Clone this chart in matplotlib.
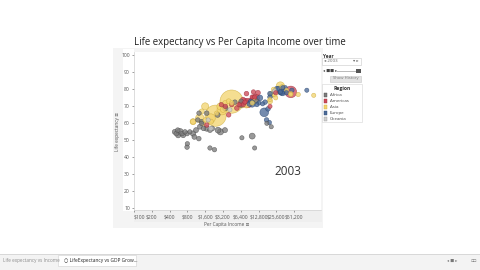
import matplotlib
matplotlib.use("Agg")
import matplotlib.pyplot as plt
from matplotlib.patches import Rectangle
import numpy as np

plt.rcParams['font.family'] = ['Open Sans', 'DejaVu Sans']

# ---------------- data ----------------
regions = ["Africa", "Americas", "Asia", "Europe", "Oceania"]
region_colors = ["#7c7c7c", "#cf4c5a", "#f3d572", "#4d6b98", "#cfcfcf"]
region_edges = ["#4e4e4e", "#9e2f3c", "#cfae3e", "#2d4a75", "#9a9a9a"]

africa_income = [490, 520, 550, 560, 600, 650, 680, 730, 790, 880, 1000, 1050, 1120, 1250,
                 790, 800, 1300, 1400, 1500, 1700, 1930, 2100, 2640, 2900, 3460, 1930, 2300,
                 6700, 10000, 11000, 17700, 21000, 2600, 1700, 1400, 5100, 6500, 3500, 6500,
                 12000, 1260, 1200]
africa_life = [55, 54, 56, 53, 55, 54, 53, 55, 54, 55, 54, 52, 56, 51,
               46, 48, 58, 60, 57, 57, 56, 57, 56, 55, 56, 45.5, 44.5,
               51.5, 52.5, 45.5, 60, 58, 65, 66, 61, 72.5, 71, 69, 73,
               73, 66, 62]
africa_pop = [20, 15, 12, 25, 70, 10, 18, 8, 12, 5, 30, 14, 20, 10,
              8, 5, 16, 10, 9, 35, 14, 18, 40, 50, 22, 5, 6,
              2, 45, 2, 1, 1, 20, 10, 12, 8, 30, 30, 10,
              5, 8, 6]

americas_income = [45000, 33000, 11500, 8500, 10500, 7500, 9500, 6500, 12500, 8000, 7000,
                   5500, 4000, 1700, 7000, 3500, 6000, 3000, 10500, 4500, 10000, 11000,
                   7500, 20000, 25000]
americas_life = [78.5, 80, 75, 72, 75, 73, 73, 72, 78, 77.5, 74,
                 69, 65, 59, 71, 70, 71, 71, 78.5, 71, 75.5, 75.5,
                 72.5, 70, 78]
americas_pop = [290, 32, 103, 180, 38, 42, 26, 27, 16, 11, 13,
                12, 9, 9, 9, 7, 6, 5, 4, 5.5, 3.3, 3,
                2.6, 1.3, 3.9]

asia_income = [4480, 2400, 3100, 2000, 1300, 30000, 2900, 1600, 6700, 8000, 21000, 1000,
               11000, 20000, 1000, 3500, 24000, 32000, 38000, 23000, 45000, 110000, 60000,
               3200, 4000, 2000, 1500, 1400, 2500, 1600, 4500, 10000, 20000, 25000, 45000]
asia_life = [72.8, 64.5, 68, 63, 63, 82, 70, 70, 71, 71, 77, 61,
             73, 73, 61, 72, 77, 81.5, 79.5, 80, 77.5, 76.5, 77,
             68, 73, 61, 60, 67, 66, 62, 72, 72, 74, 75, 77]
asia_pop = [1290, 1070, 215, 150, 140, 127, 82, 82, 63, 68, 48, 47,
            25, 23, 25, 19, 22, 7, 4, 6, 2.5, 1, 4,
            25, 18, 20, 13, 23, 2.5, 5.5, 5.4, 4, 2.5, 0.7, 0.4]

europe_income = [16000, 31000, 31000, 30000, 28000, 26000, 13500, 17500, 19500, 9000, 34000,
                 31000, 31000, 36000, 47000, 33000, 34000, 24000, 20000, 20000, 16500, 18500,
                 9500, 10000, 10000, 38000, 30000, 84000, 33000, 13000, 12000, 15000]
europe_life = [66.5, 78.7, 78.5, 79.5, 80, 80, 75, 62, 60.5, 71.5, 79,
               78.5, 80.5, 81, 79.5, 77.5, 79, 79, 77.5, 75.5, 72.5, 68.5,
               73, 72.5, 71.5, 78, 78.5, 79.5, 81, 72, 71, 71.5]
europe_pop = [145, 82, 59, 60, 57, 42, 38, 10, 5, 22, 16,
              10, 9, 7.3, 4.6, 5.4, 8, 11, 10, 10, 10, 10,
              10, 8, 68, 4, 5.2, 0.45, 0.3, 3.4, 2.3, 1.3]

oceania_income = [31000, 24000, 2000, 4200, 1800]
oceania_life = [80.5, 79, 57, 68, 62]
oceania_pop = [20, 4, 6, 0.8, 0.5]

x_ticks = [100, 200, 400, 800, 1600, 3200, 6400, 12800, 25600, 51200]
x_tick_labels = ["$100", "$200", "$400", "$800", "$1,600", "$3,200", "$6,400",
                 "$12,800", "$25,600", "$51,200"]
y_ticks = [10, 20, 30, 40, 50, 60, 70, 80, 90, 100]
year_label = "2003"

# ---------------- figure ----------------
W, H = 480, 270
fig = plt.figure(figsize=(4.8, 2.7), dpi=100)
fig.patch.set_facecolor("white")


def fx(x):
    return x / W


def fy(y):
    return 1 - y / H


def frect(x0, y0, x1, y1, **kw):
    r = Rectangle((fx(x0), fy(y1)), fx(x1) - fx(x0), fy(y0) - fy(y1),
                  transform=fig.transFigure, **kw)
    fig.patches.append(r)
    return r


# sheet background panels
frect(113, 48, 323, 228, facecolor="#f4f4f4", edgecolor="none", zorder=-3)
frect(123, 49, 134, 211, facecolor="white", edgecolor="none", zorder=-2)
frect(134, 211, 322, 222, facecolor="#efefef", edgecolor="none", zorder=-2)

# title
fig.text(fx(240), fy(42), "Life expectancy vs Per Capita Income over time",
         ha="center", va="center", fontsize=6.9, color="#222222")

ax = fig.add_axes([fx(134), fy(210), fx(321) - fx(134), fy(52) - fy(210)])
ax.set_zorder(5)
ax.set_facecolor("white")
ax.set_xscale("log", base=2)
ax.set_xlim(100, 146000)
ax.set_ylim(9, 102)

groups = [
    (africa_income, africa_life, africa_pop),
    (americas_income, americas_life, americas_pop),
    (asia_income, asia_life, asia_pop),
    (europe_income, europe_life, europe_pop),
    (oceania_income, oceania_life, oceania_pop),
]

xs, ys, ss, cs, es = [], [], [], [], []
for gi, (inc, le, pop) in enumerate(groups):
    for a, b, p in zip(inc, le, pop):
        xs.append(a)
        ys.append(b)
        ss.append(9 + 0.21 * p)
        cs.append(region_colors[gi])
        es.append(region_edges[gi])
order = np.argsort(ss)[::-1]
ax.scatter(np.array(xs)[order], np.array(ys)[order], s=np.array(ss)[order],
           c=np.array(cs)[order], edgecolors=np.array(es)[order],
           linewidths=0.4, alpha=0.78, zorder=3)

ax.set_xticks(x_ticks)
ax.set_xticklabels(x_tick_labels)
ax.minorticks_off()
ax.set_yticks(y_ticks)
ax.tick_params(axis="both", labelsize=3.6, colors="#555555", length=1.5,
               width=0.4, pad=1.5)
ax.get_xticklabels()[0].set_horizontalalignment("left")
for sp in ["top", "right"]:
    ax.spines[sp].set_visible(False)
for sp in ["left", "bottom"]:
    ax.spines[sp].set_color("#cfcfcf")
    ax.spines[sp].set_linewidth(0.5)

ax.text(0.825, 0.245, year_label, transform=ax.transAxes, fontsize=8.5,
        color="#333333", ha="center", va="center")

fig.text(fx(118), fy(131), "Life expectancy \u2261", rotation=90, ha="center",
         va="center", fontsize=3.4, color="#555555")
fig.text(fx(227), fy(224.5), "Per Capita Income \u2261", ha="center",
         va="center", fontsize=3.4, color="#555555")

# ---------------- right panel (filters / legend) ----------------
fig.text(fx(323), fy(56), "Year", fontsize=3.4, fontweight="bold",
         color="#333333", ha="left", va="center")
frect(322, 58.5, 361, 64.5, facecolor="white", edgecolor="#c8c8c8", lw=0.4, zorder=1)
fig.text(fx(324), fy(61.5), "\u25c2 2003", fontsize=3.2, color="#666666",
         ha="left", va="center")
fig.text(fx(359), fy(61.5), "\u25be \u25b8", fontsize=3.2, color="#666666",
         ha="right", va="center")
fig.text(fx(323), fy(71), "\u25c2 \u25a0\u25a0 \u25b8", fontsize=3.0,
         color="#444444", ha="left", va="center")
frect(337, 71, 356, 71.6, facecolor="#bbbbbb", edgecolor="none", zorder=1)
frect(356, 68.5, 361, 73, facecolor="#555555", edgecolor="none", zorder=1)
frect(330, 75.5, 361, 81.5, facecolor="#e3e3e3", edgecolor="#c8c8c8", lw=0.4, zorder=1)
fig.text(fx(345.5), fy(78.5), "Show History", fontsize=3.0, color="#777777",
         ha="center", va="center")

frect(322, 84, 362, 122, facecolor="white", edgecolor="#d5d5d5", lw=0.4, zorder=1)
fig.text(fx(342), fy(88.5), "Region", fontsize=3.6, fontweight="bold",
         color="#333333", ha="center", va="center")
for i, (rname, rc, re) in enumerate(zip(regions, region_colors, region_edges)):
    yy = 95 + i * 6
    frect(324, yy - 1.7, 327.5, yy + 1.7, facecolor=rc, edgecolor=re, lw=0.3, zorder=2)
    fig.text(fx(330), fy(yy), rname, fontsize=3.2, color="#444444",
             ha="left", va="center")

# ---------------- bottom tab bar ----------------
frect(0, 254, 480, 270, facecolor="#f3f3f3", edgecolor="none", zorder=0)
frect(0, 254, 480, 254.6, facecolor="#d8d8d8", edgecolor="none", zorder=1)
frect(58, 255, 136, 266, facecolor="white", edgecolor="#d0d0d0", lw=0.4, zorder=1)
fig.text(fx(3), fy(260.5), "Life expectancy vs Income", fontsize=3.3,
         color="#8a8a8a", ha="left", va="center")
fig.text(fx(64), fy(260.5), "\u25cb LifeExpectancy vs GDP Grow...", fontsize=3.5,
         color="#222222", ha="left", va="center")
fig.text(fx(447), fy(261), "\u25c2 \u25a0 \u25b8", fontsize=3.0, color="#777777",
         ha="left", va="center")
fig.text(fx(477), fy(261), "\u25ab\u25ab", fontsize=3.5, color="#777777",
         ha="right", va="center")

fig.savefig("out.png", dpi=100, facecolor="white")
